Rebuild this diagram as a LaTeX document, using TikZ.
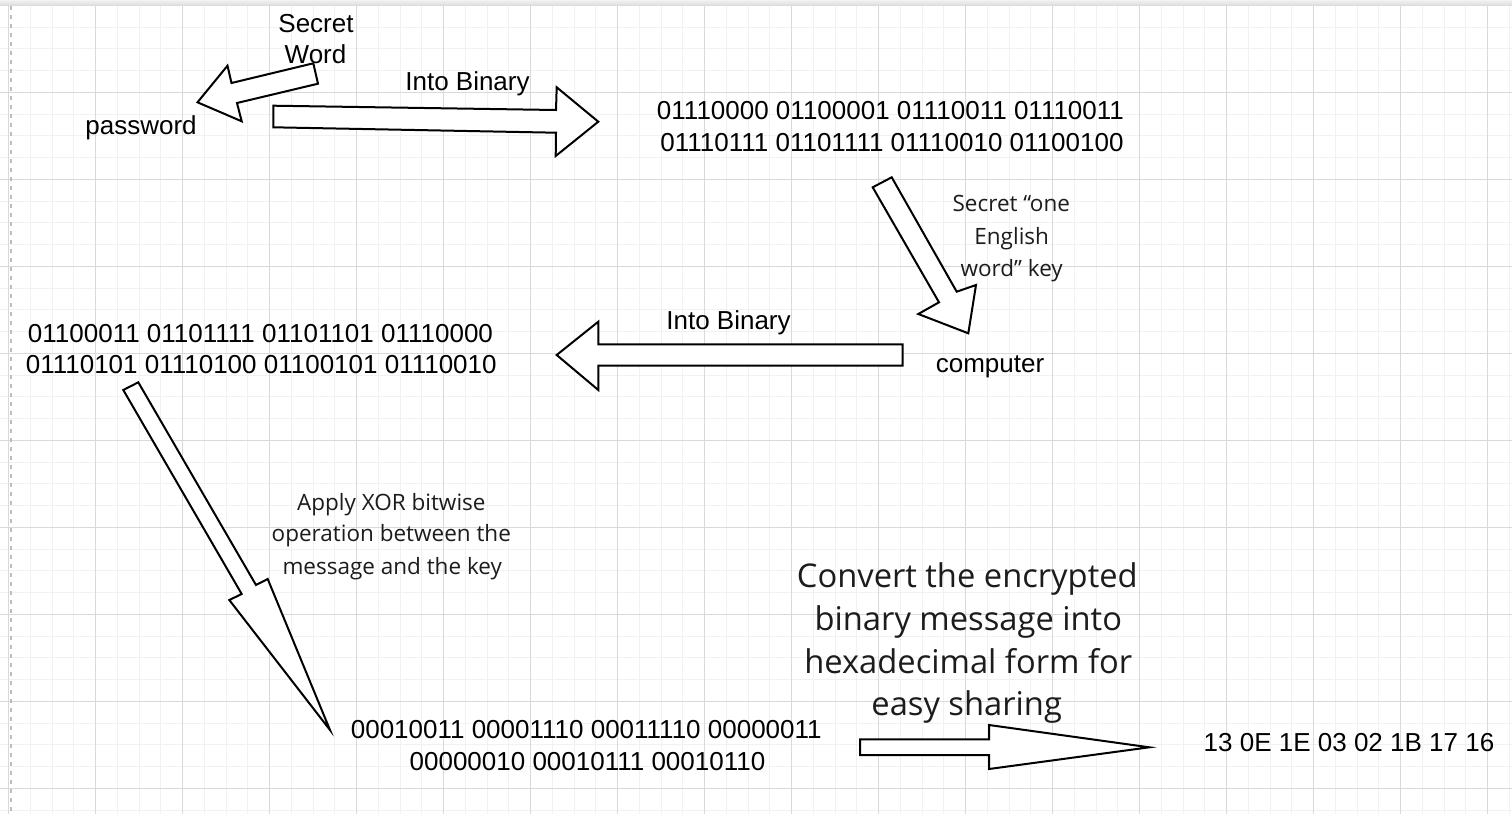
\documentclass[tikz,border=0pt]{standalone}
\usepackage{fontspec}
\setmainfont{Liberation Sans}
\newfontfamily\annotfont{Open Sans}
\definecolor{gridminor}{HTML}{F1F1F1}
\definecolor{gridmajor}{HTML}{D9D9D9}
\definecolor{notecol}{HTML}{1C1C1C}
\definecolor{dashcol}{HTML}{BDBDBD}
\begin{document}
\begin{tikzpicture}[x=0.5pt,y=-0.5pt,
  bin/.style={font=\fontsize{13pt}{15.6pt}\selectfont, anchor=base, inner sep=0pt},
  note/.style={font=\annotfont\fontsize{11.25pt}{14pt}\selectfont, text=notecol, anchor=base, inner sep=0pt},
  bignote/.style={font=\annotfont\fontsize{16.35pt}{20pt}\selectfont, text=notecol, anchor=base, inner sep=0pt},
  blockarrow/.style={draw=black, fill=white, line width=1pt, line join=miter, miter limit=20},
  minorline/.style={draw=gridminor, line width=0.5pt},
  majorline/.style={draw=gridmajor, line width=0.5pt}]
\useasboundingbox (0,0) rectangle (1512,814);
\fill[white] (0,0) rectangle (1512,814);
% grid
\foreach \i in {0,...,69} {\draw[minorline] ({8.7+21.75*\i},6) -- ({8.7+21.75*\i},814);}
\foreach \j in {0,...,37} {\draw[minorline] (0,{5.3+21.75*\j}) -- (1512,{5.3+21.75*\j});}
\foreach \i in {0,...,17} {\draw[majorline] ({8.7+87*\i},6) -- ({8.7+87*\i},814);}
\foreach \j in {0,...,9} {\draw[majorline] (0,{5.3+87*\j}) -- (1512,{5.3+87*\j});}
% top bar and left dashed line
\shade[top color=black!5, bottom color=black!14] (0,0) rectangle (1512,5.5);
\draw[dashcol, line width=0.6pt, dash pattern=on 2.2pt off 2.3pt] (11,6) -- (11,814);
% block arrows
\draw[blockarrow] (313.3,63.3) -- (231.5,83) -- (227.5,65.7) -- (197.5,102.3) -- (241.7,121.3) -- (237,103) -- (318,83.7) -- cycle;
\draw[blockarrow] (273.3,105.7) -- (556,110) -- (556.7,87.3) -- (598.3,121.7) -- (555.7,156) -- (556,132.7) -- (273.3,127.3) -- cycle;
\draw[blockarrow] (872.7,187.3) -- (891.7,177.3) -- (956.7,291.7) -- (976,285) -- (968.3,333.3) -- (918.3,314) -- (939,302.3) -- cycle;
\draw[blockarrow] (902.7,344.3) -- (598.3,344.3) -- (598.3,321.7) -- (556.7,355) -- (598.3,390) -- (598.3,365.7) -- (902.7,365.7) -- cycle;
\draw[blockarrow] (123.3,390) -- (138.3,382.3) -- (256,585) -- (267.7,579) -- (330,730) -- (229.3,600) -- (241.7,594) -- cycle;
\draw[blockarrow] (860,739.3) -- (989,739.3) -- (989,725) -- (1149.3,747.3) -- (989,769) -- (989,755) -- (860,755) -- cycle;
% texts
\node[bin] (s1) at (316,32.3) {Secret};
\node[bin] (s2) at (315.5,63.3) {Word};
\node[bin] (pw) at (141,134) {password};
\node[bin] (ib1) at (467.5,90.7) {Into Binary};
\node[bin] (b1a) at (890.5,119.3) {01110000 01100001 01110011 01110011};
\node[bin] (b1b) at (892,151) {01110111 01101111 01110010 01100100};
\node[note] (k1) at (1011.3,211.7) {Secret “one};
\node[note] (k2) at (1011.7,244) {English};
\node[note] (k3) at (1011.7,276.7) {word” key};
\node[bin] (ib2) at (728.5,329.3) {Into Binary};
\node[bin] (comp) at (990,372.5) {computer};
\node[bin] (b2a) at (260.5,342.3) {01100011 01101111 01101101 01110000};
\node[bin] (b2b) at (261.3,373.3) {01110101 01110100 01100101 01110010};
\node[note] (x1) at (391.3,510) {Apply XOR bitwise};
\node[note] (x2) at (391.3,541.7) {operation between the};
\node[note] (x3) at (392.2,574) {message and the key};
\node[bignote] (c1) at (967.3,587.3) {Convert the encrypted};
\node[bignote] (c2) at (968.3,630) {binary message into};
\node[bignote] (c3) at (968.3,673.3) {hexadecimal form for};
\node[bignote] (c4) at (966.7,715) {easy sharing};
\node[bin] (b3a) at (586.3,738.3) {00010011 00001110 00011110 00000011};
\node[bin] (b3b) at (587.5,770) {00000010 00010111 00010110};
\node[bin] (hex) at (1349,751) {13 0E 1E 03 02 1B 17 16};
\end{tikzpicture}
\end{document}
